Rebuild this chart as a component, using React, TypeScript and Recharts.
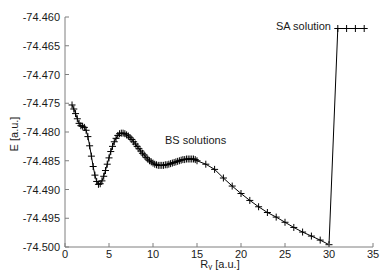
import { LineChart, Line, XAxis, YAxis, Label } from 'recharts'

// broken-symmetry scan
const bsR = [
  0.8, 1.0, 1.2, 1.4, 1.6, 1.8, 2.0, 2.2, 2.4, 2.6, 2.8, 3.0, 3.2, 3.4, 3.6, 3.8,
  4.0, 4.2, 4.4, 4.6, 4.8, 5.0, 5.2, 5.4, 5.6, 5.8, 6.0, 6.2, 6.4, 6.6, 6.8,
  7.0, 7.2, 7.4, 7.6, 7.8, 8.0, 8.2, 8.4, 8.6, 8.8, 9.0, 9.2, 9.4, 9.6, 9.8,
  10.0, 10.2, 10.4, 10.6, 10.8, 11.0, 11.2, 11.4, 11.6, 11.8, 12.0, 12.2, 12.4,
  12.6, 12.8, 13.0, 13.2, 13.4, 13.6, 13.8, 14.0, 14.2, 14.4, 14.6, 14.8, 15.0,
  16, 17, 18, 19, 20, 21, 22, 23, 24, 25, 26, 27, 28, 29, 30,
]
const bsE = [
  -74.4753, -74.476, -74.4768, -74.4777, -74.4785, -74.4789, -74.479, -74.4792,
  -74.4797, -74.4808, -74.4824, -74.4842, -74.486, -74.4875, -74.4886, -74.4891,
  -74.489, -74.4885, -74.4877, -74.4867, -74.4856, -74.4845, -74.4834, -74.4825,
  -74.4817, -74.4811, -74.4806, -74.4803, -74.4802, -74.4802, -74.4803,
  -74.4805, -74.4807, -74.481, -74.4813, -74.4817, -74.4821, -74.4825, -74.4829,
  -74.4833, -74.4837, -74.484, -74.4844, -74.4847, -74.485, -74.4852,
  -74.4854, -74.4856, -74.4857, -74.4858, -74.4858, -74.4858, -74.4858, -74.4857,
  -74.4857, -74.4856, -74.4855, -74.4854, -74.4853, -74.4852, -74.4851, -74.485,
  -74.4849, -74.4848, -74.4848, -74.4847, -74.4847, -74.4847, -74.4847, -74.4847,
  -74.4848, -74.485,
  -74.4856, -74.4865, -74.488, -74.4894, -74.4907, -74.4919, -74.493, -74.494,
  -74.4948, -74.4957, -74.4966, -74.4974, -74.4981, -74.4988, -74.4996,
]
// spin-adapted solution
const saR = [31, 32, 33, 34]
const saE = [-74.462, -74.462, -74.462, -74.462]

const xTicks = [0, 5, 10, 15, 20, 25, 30, 35]
const yTicks = [-74.5, -74.495, -74.49, -74.485, -74.48, -74.475, -74.47, -74.465, -74.46]

const data = [
  ...bsR.map((r, i) => ({ r, e: bsE[i] })),
  ...saR.map((r, i) => ({ r, e: saE[i] })),
]

const W = 383
const H = 270
const box = { left: 65, right: 373, top: 17, bottom: 247 }
const axisColor = '#7f7f7f'
const font = 'Liberation Sans, Arial, sans-serif'
const txt = '#1a1a1a'

const Plus = (p: any) => {
  const { cx, cy, index } = p
  if (cx == null || cy == null) return <g key={index} />
  return (
    <path
      key={index}
      d={`M${cx - 3.5},${cy}h7M${cx},${cy - 3.5}v7`}
      stroke="#000"
      strokeWidth={1}
      fill="none"
    />
  )
}

const BottomTick = (p: any) => (
  <g>
    <line x1={p.x} x2={p.x} y1={box.bottom} y2={box.bottom - 4} stroke={axisColor} />
    <text x={p.x} y={box.bottom + 7} textAnchor="middle" dominantBaseline="central"
      fontSize={11} fontFamily={font} fill={txt}>
      {p.payload.value}
    </text>
  </g>
)

const TopTick = (p: any) => (
  <line x1={p.x} x2={p.x} y1={box.top} y2={box.top + 4} stroke={axisColor} />
)

const LeftTick = (p: any) => (
  <g>
    <line x1={box.left} x2={box.left + 4} y1={p.y} y2={p.y} stroke={axisColor} />
    <text x={box.left - 5} y={p.y} textAnchor="end" dominantBaseline="central"
      fontSize={11} fontFamily={font} fill={txt}>
      {Number(p.payload.value).toFixed(3)}
    </text>
  </g>
)

const RightTick = (p: any) => (
  <line x1={box.right} x2={box.right - 4} y1={p.y} y2={p.y} stroke={axisColor} />
)

export default function App() {
  return (
    <div style={{ position: 'absolute', left: 0, top: 0, width: W, height: H, background: '#fff' }}>
      <LineChart
        width={W}
        height={H}
        data={data}
        margin={{ top: box.top, right: W - box.right, bottom: 0, left: 0 }}
      >
        <XAxis
          dataKey="r"
          type="number"
          domain={[0, 35]}
          ticks={xTicks}
          allowDataOverflow
          height={H - box.bottom}
          stroke={axisColor}
          tickLine={false}
          tick={<BottomTick />}
        >
          <Label
            content={() => (
              <text x={220} y={264} textAnchor="middle" dominantBaseline="central"
                fontSize={11} fontFamily={font} fill={txt}>
                R<tspan dy={2} fontSize={8}>γ</tspan><tspan dy={-2}> [a.u.]</tspan>
              </text>
            )}
          />
        </XAxis>
        <XAxis
          xAxisId="top"
          orientation="top"
          type="number"
          domain={[0, 35]}
          ticks={xTicks}
          allowDataOverflow
          height={0}
          stroke={axisColor}
          tickLine={false}
          tick={<TopTick />}
        />
        <YAxis
          type="number"
          domain={[-74.5, -74.46]}
          ticks={yTicks}
          allowDataOverflow
          width={box.left}
          stroke={axisColor}
          tickLine={false}
          tick={<LeftTick />}
        >
          <Label
            content={() => (
              <text x={14} y={134} textAnchor="middle" dominantBaseline="central"
                transform="rotate(-90 14 134)" fontSize={11} fontFamily={font} fill={txt}>
                E [a.u.]
              </text>
            )}
          />
        </YAxis>
        <YAxis
          yAxisId="right"
          orientation="right"
          type="number"
          domain={[-74.5, -74.46]}
          ticks={yTicks}
          allowDataOverflow
          width={0}
          stroke={axisColor}
          tickLine={false}
          tick={<RightTick />}
        />
        <Line
          dataKey="e"
          stroke="#000"
          strokeWidth={1}
          dot={Plus}
          isAnimationActive={false}
        />
      </LineChart>
      <div style={{ position: 'absolute', left: 165, top: 134, fontSize: 11, fontFamily: font, color: txt, whiteSpace: 'nowrap' }}>
        BS solutions
      </div>
      <div style={{ position: 'absolute', right: W - 331, top: 20, fontSize: 11, fontFamily: font, color: txt, whiteSpace: 'nowrap' }}>
        SA solution
      </div>
    </div>
  )
}
